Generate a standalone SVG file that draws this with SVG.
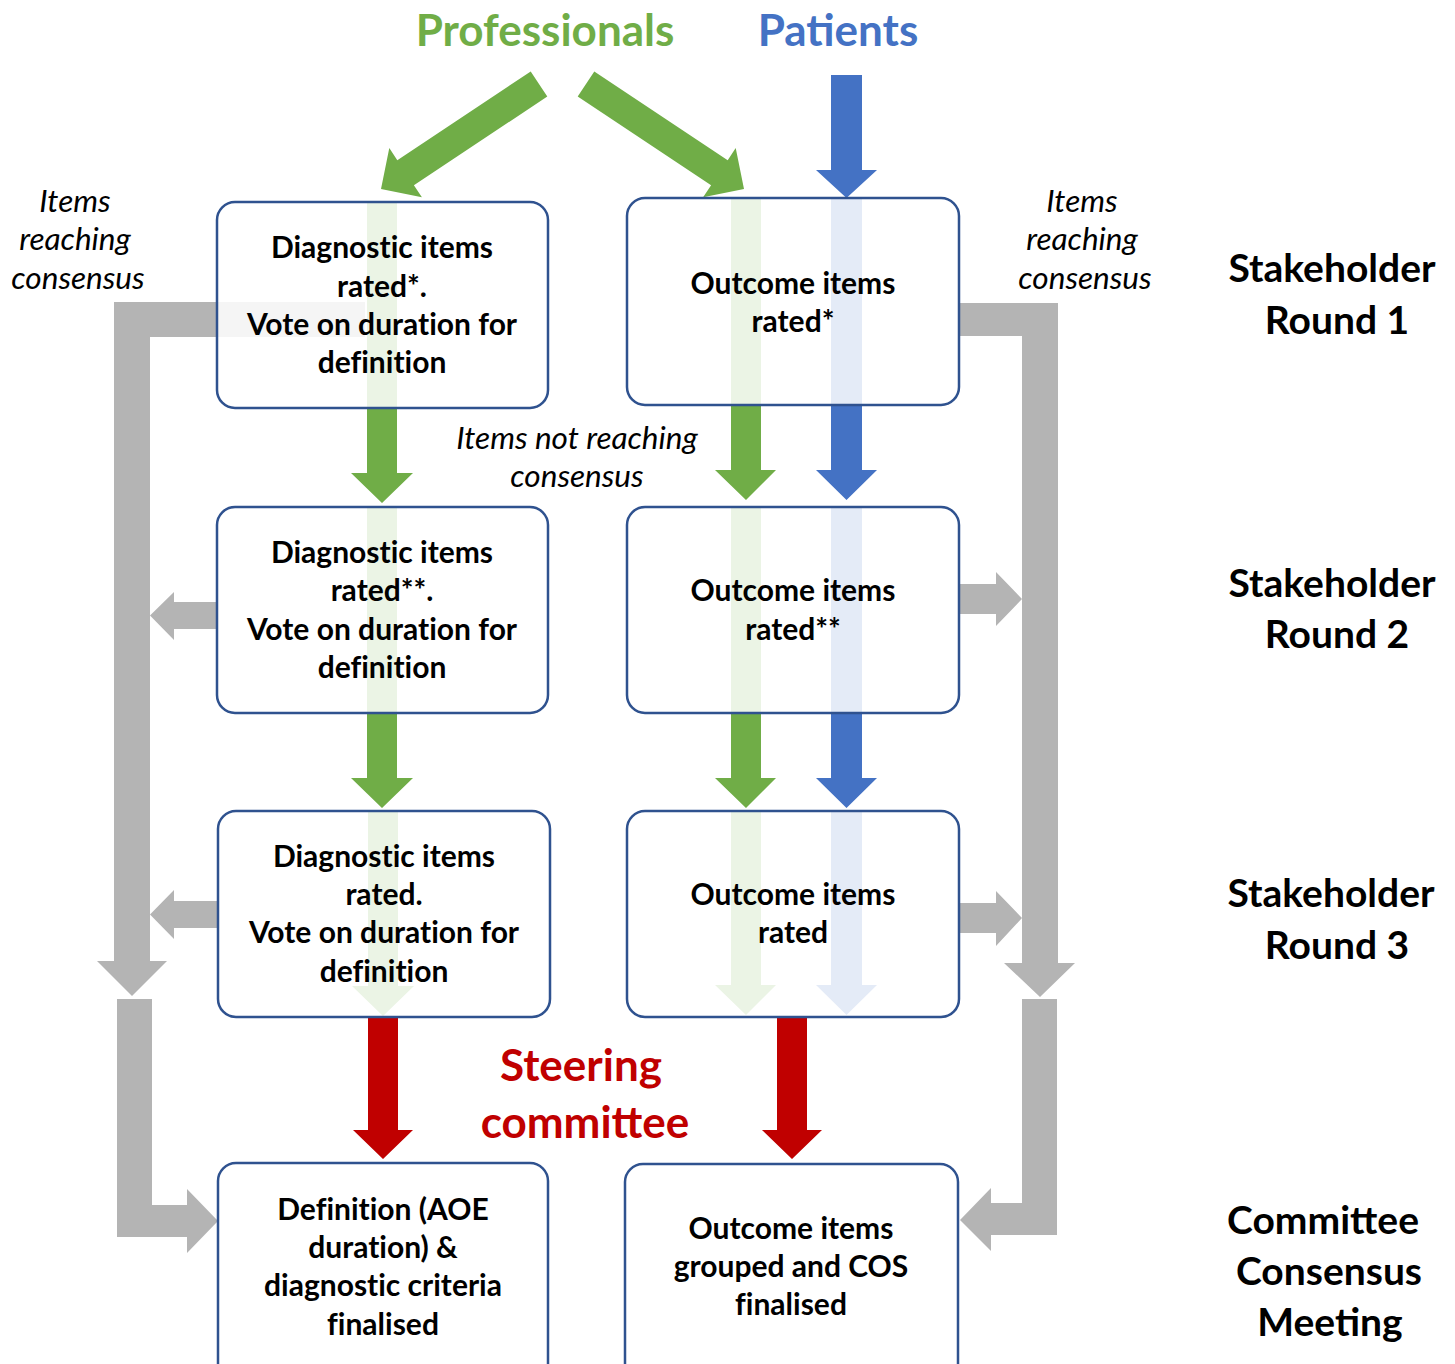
<svg xmlns="http://www.w3.org/2000/svg" width="1455" height="1364" viewBox="0 0 1455 1364">
<style>
.box{fill:#fff;fill-opacity:0.86;stroke:#2F528F;stroke-width:2.5}
.bt{font-family:Lato,"Liberation Sans",sans-serif;font-weight:bold;font-size:30px;fill:#000;text-anchor:middle;font-variant-ligatures:none}
.it{font-family:Lato,"Liberation Sans",sans-serif;font-style:italic;font-size:31.5px;fill:#000;text-anchor:middle}
.hd{font-family:Lato,"Liberation Sans",sans-serif;font-weight:bold;font-size:39px;fill:#000;text-anchor:middle}
.big{font-family:Lato,"Liberation Sans",sans-serif;font-weight:bold;font-size:44px;text-anchor:middle}
.g{fill:#70AD47}.b{fill:#4472C4}.r{fill:#C00000}.gr{fill:#B4B4B4}
</style>
<g id="connectors">
<path class="gr" d="M365,302 H114 V961 H97 L132,996 L167,961 H150 V337 H365 Z"/>
<path class="gr" d="M217,602 H174 V592 L150,615.5 L174,640 V629 H217 Z"/>
<path class="gr" d="M218,901 H174 V890 L150,914.5 L174,939 V928 H218 Z"/>
<path class="gr" d="M117,999 H152 V1205 H187 V1189 L218,1221 L187,1253 V1237 H117 Z"/>
<path class="gr" d="M959,303 H1058 V963 H1075 L1040,997 L1004,963 H1022 V336 H959 Z"/>
<path class="gr" d="M959,584 H996 V572 L1022,599 L996,626 V614 H959 Z"/>
<path class="gr" d="M959,903 H996 V891 L1022,918 L996,946 V933 H959 Z"/>
<path class="gr" d="M1057,999 V1235 H991 V1251 L960,1220 L991,1188 V1203 H1022 V999 Z"/>
<polygon class="g" points="530.7,71.5 547.3,96.5 413.9,185.2 421.9,197.3 381,189 389.3,148.1 397.3,160.2"/>
<polygon class="g" points="594.3,71.5 577.7,96.5 711.1,185.2 703.1,197.3 744,189 735.7,148.1 727.7,160.2"/>
<path class="b" d="M831,75 H862 V170 H877 L846.5,198 L816,170 H831 Z"/>
<path class="g" d="M367,202 H397 V473 H413 L382,503 L351,473 H367 Z"/>
<path class="g" d="M367,507 H397 V778 H413 L382,808 L351,778 H367 Z"/>
<path class="g" d="M368,811 H398 V986 H414 L383,1016 L352,986 H368 Z"/>
<path class="g" d="M731,198 H761 V470 H776 L746,500 L715,470 H731 Z"/>
<path class="g" d="M731,507 H761 V778 H776 L746,808 L715,778 H731 Z"/>
<path class="g" d="M731,811 H761 V985 H776 L746,1015 L715,985 H731 Z"/>
<path class="b" d="M831,198 H862 V470 H877 L846.5,500 L816,470 H831 Z"/>
<path class="b" d="M831,507 H862 V778 H877 L846.5,808 L816,778 H831 Z"/>
<path class="b" d="M831,811 H862 V985 H877 L846.5,1015 L816,985 H831 Z"/>
<path class="r" d="M368,1017 H398 V1130 H413 L383,1159 L353,1130 H368 Z"/>
<path class="r" d="M777,1017 H807 V1130 H822 L792,1159 L762,1130 H777 Z"/>
</g>
<g id="node-diag1"><rect class="box" x="217" y="202" width="331" height="206" rx="18"/>
<text class="bt" x="382" y="258">Diagnostic items</text><text class="bt" x="382" y="297">rated*.</text><text class="bt" x="382" y="335">Vote on duration for</text><text class="bt" x="382" y="373">definition</text></g>
<g id="node-out1"><rect class="box" x="627" y="198" width="332" height="207" rx="18"/>
<text class="bt" x="793" y="294">Outcome items</text><text class="bt" x="793" y="332">rated*</text></g>
<g id="node-diag2"><rect class="box" x="217" y="507" width="331" height="206" rx="18"/>
<text class="bt" x="382" y="563">Diagnostic items</text><text class="bt" x="382" y="601">rated**.</text><text class="bt" x="382" y="640">Vote on duration for</text><text class="bt" x="382" y="678">definition</text></g>
<g id="node-out2"><rect class="box" x="627" y="507" width="332" height="206" rx="18"/>
<text class="bt" x="793" y="601">Outcome items</text><text class="bt" x="793" y="640">rated**</text></g>
<g id="node-diag3"><rect class="box" x="218" y="811" width="332" height="206" rx="18"/>
<text class="bt" x="384" y="867">Diagnostic items</text><text class="bt" x="384" y="905">rated.</text><text class="bt" x="384" y="943">Vote on duration for</text><text class="bt" x="384" y="982">definition</text></g>
<g id="node-out3"><rect class="box" x="627" y="811" width="332" height="206" rx="18"/>
<text class="bt" x="793" y="905">Outcome items</text><text class="bt" x="793" y="943">rated</text></g>
<g id="node-def"><rect class="box" x="218" y="1163" width="330" height="220" rx="18"/>
<text class="bt" x="383" y="1220">Definition (AOE</text><text class="bt" x="383" y="1258">duration) &amp;</text><text class="bt" x="383" y="1296">diagnostic criteria</text><text class="bt" x="383" y="1335">finalised</text></g>
<g id="node-cos"><rect class="box" x="625" y="1164" width="333" height="220" rx="18"/>
<text class="bt" x="791" y="1239">Outcome items</text><text class="bt" x="791" y="1277">grouped and COS</text><text class="bt" x="791" y="1315">finalised</text></g>
<g id="labels">
<text class="big g" x="545" y="46" style="fill:#70AD47">Professionals</text>
<text class="big b" x="838" y="46" style="fill:#4472C4">Patients</text>
<text class="it" x="75" y="212">Items</text><text class="it" x="75" y="250">reaching</text><text class="it" x="78" y="289">consensus</text>
<text class="it" x="1082" y="212">Items</text><text class="it" x="1082" y="250">reaching</text><text class="it" x="1085" y="289">consensus</text>
<text class="it" x="577" y="449">Items not reaching</text><text class="it" x="577" y="487">consensus</text>
<text class="hd" x="1332" y="282">Stakeholder</text><text class="hd" x="1337" y="334">Round 1</text>
<text class="hd" x="1332" y="597">Stakeholder</text><text class="hd" x="1337" y="648">Round 2</text>
<text class="hd" x="1331" y="907">Stakeholder</text><text class="hd" x="1337" y="959">Round 3</text>
<text class="hd" x="1323" y="1234">Committee</text><text class="hd" x="1329" y="1285">Consensus</text><text class="hd" x="1330" y="1336">Meeting</text>
<text class="big r" x="581" y="1081" style="fill:#C00000">Steering</text>
<text class="big r" x="585" y="1138" style="fill:#C00000">committee</text>
</g>
</svg>
